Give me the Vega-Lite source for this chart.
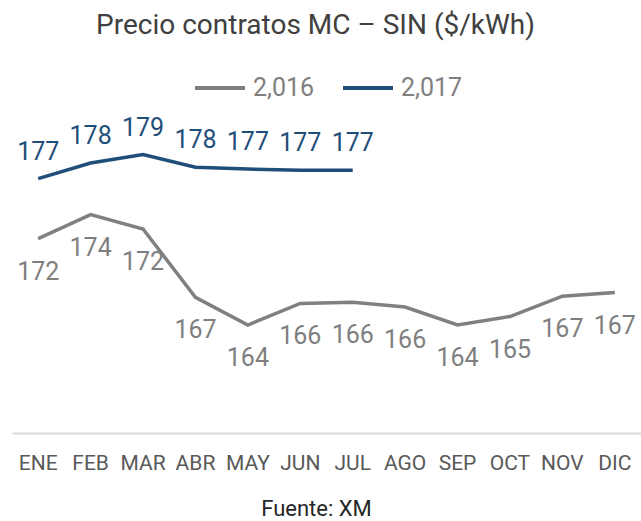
{
  "$schema": "https://vega.github.io/schema/vega-lite/v6.json",
  "width": 629,
  "height": 300,
  "autosize": {"type": "none"},
  "padding": {"left": 12, "top": 133, "right": 0, "bottom": 88},
  "background": "white",
  "title": {"text": "Precio contratos MC – SIN ($/kWh)", "fontSize": 28, "font": "Roboto", "fontWeight": "normal", "color": "#404040", "anchor": "middle", "frame": "group", "offset": 21, "dx": -11},
  "config": {"view": {"stroke": null}, "font": "Roboto"},
  "data": {"values": [
    {"mes": "ENE", "anio": "2,016", "valor": 171.6},
    {"mes": "FEB", "anio": "2,016", "valor": 173.6},
    {"mes": "MAR", "anio": "2,016", "valor": 172.4},
    {"mes": "ABR", "anio": "2,016", "valor": 166.7},
    {"mes": "MAY", "anio": "2,016", "valor": 164.4},
    {"mes": "JUN", "anio": "2,016", "valor": 166.2},
    {"mes": "JUL", "anio": "2,016", "valor": 166.3},
    {"mes": "AGO", "anio": "2,016", "valor": 165.9},
    {"mes": "SEP", "anio": "2,016", "valor": 164.4},
    {"mes": "OCT", "anio": "2,016", "valor": 165.1},
    {"mes": "NOV", "anio": "2,016", "valor": 166.8},
    {"mes": "DIC", "anio": "2,016", "valor": 167.1},
    {"mes": "ENE", "anio": "2,017", "valor": 176.6},
    {"mes": "FEB", "anio": "2,017", "valor": 177.9},
    {"mes": "MAR", "anio": "2,017", "valor": 178.6},
    {"mes": "ABR", "anio": "2,017", "valor": 177.55},
    {"mes": "MAY", "anio": "2,017", "valor": 177.4},
    {"mes": "JUN", "anio": "2,017", "valor": 177.3},
    {"mes": "JUL", "anio": "2,017", "valor": 177.3}
  ]},
  "encoding": {
    "x": {"field": "mes", "type": "ordinal",
      "sort": ["ENE", "FEB", "MAR", "ABR", "MAY", "JUN", "JUL", "AGO", "SEP", "OCT", "NOV", "DIC"],
      "scale": {"type": "band", "paddingInner": 0, "paddingOuter": 0},
      "axis": {"title": "Fuente: XM", "titleFontSize": 22, "titleFontWeight": "normal", "titleColor": "#262626", "titlePadding": 25, "titleX": 304, "labelFontSize": 21, "labelColor": "#595959", "labelPadding": 19, "ticks": false, "domainColor": "#d9d9d9", "domainWidth": 2, "labelAngle": 0}},
    "y": {"field": "valor", "type": "quantitative", "scale": {"domain": [155.4, 180.4], "zero": false, "nice": false}, "axis": null},
    "color": {"field": "anio", "type": "nominal",
      "scale": {"domain": ["2,016", "2,017"], "range": ["#808080", "#1f4e79"]},
      "legend": {"orient": "none", "legendX": 181, "legendY": -72, "direction": "horizontal", "title": null, "symbolType": "stroke", "symbolStrokeWidth": 4, "symbolSize": 2500, "labelFontSize": 25, "labelColor": "#7f7f7f", "columnPadding": 20, "labelOffset": 6, "padding": 0}}
  },
  "layer": [
    {"mark": {"type": "line", "strokeWidth": 3.5}},
    {"transform": [{"filter": "datum.anio == '2,016'"}],
     "mark": {"type": "text", "fontSize": 25, "dy": 33},
     "encoding": {"text": {"field": "valor", "type": "quantitative", "format": ".0f"}, "color": {"value": "#7f7f7f"}}},
    {"transform": [{"filter": "datum.anio == '2,017'"}],
     "mark": {"type": "text", "fontSize": 25, "dy": -27},
     "encoding": {"text": {"field": "valor", "type": "quantitative", "format": ".0f"}, "color": {"value": "#1f4e79"}}}
  ]
}
